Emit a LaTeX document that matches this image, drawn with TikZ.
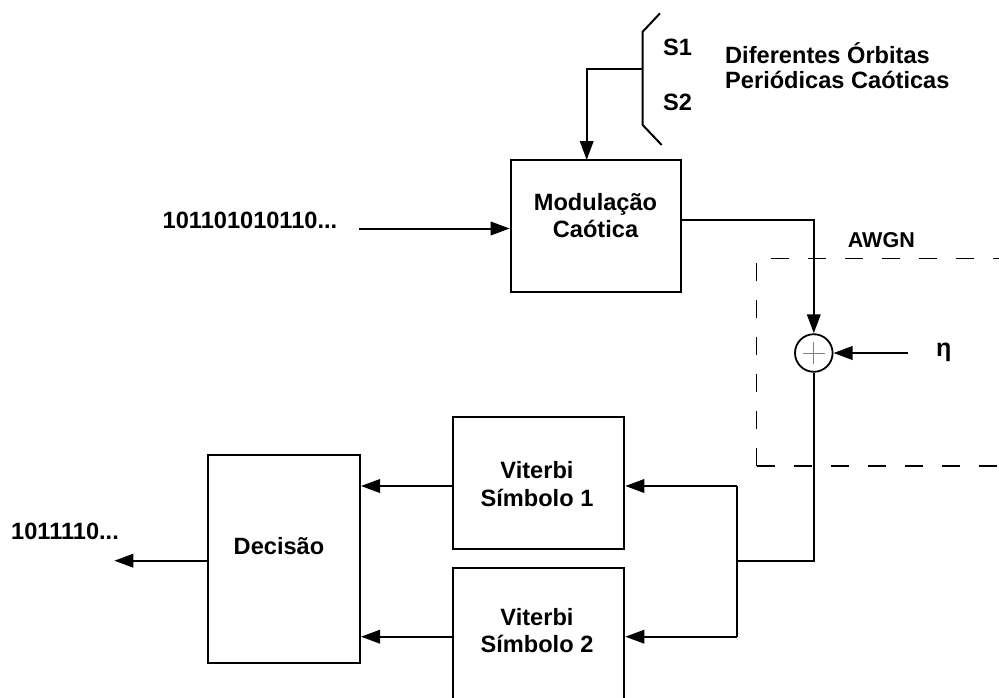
\documentclass[tikz,border=0pt]{standalone}
\usepackage{fontspec}
\setmainfont{Liberation Sans}
\usetikzlibrary{arrows.meta}

\tikzset{
  lbl/.style={inner sep=0pt, font=\fontsize{23.6}{28}\selectfont\bfseries},
  blk/.style={draw, line width=2pt, inner sep=0pt, fill=white},
  wire/.style={line width=2pt},
  arr/.style={wire, -{Triangle[length=19pt,width=13.5pt]}},
  awgnbox/.style={line width=1.3pt, dash pattern=on 18pt off 19pt},
}

\begin{document}
\begin{tikzpicture}[x=1pt, y=-1pt]
\useasboundingbox (0,0) rectangle (999,697);

% ---- transmitter ----
\node[lbl, anchor=base west] (bits) at (162.5,228.3) {101101010110...};
\coordinate (inA) at (359,228.5);
\node[blk, minimum width=170.3pt, minimum height=132.3pt] (mod) at (595.85,226.15) {};
\node[lbl, anchor=base] (mod1) at (595.5,210) {Modulação};
\node[lbl, anchor=base] (mod2) at (595.5,237) {Caótica};
\draw[arr] (inA) -- (inA -| mod.west);

% ---- orbit selector switch ----
\coordinate (swA) at (660,13.3);
\coordinate (swB) at (642.7,31.7);
\coordinate (swC) at (642.7,125);
\coordinate (swD) at (661.7,145);
\coordinate (swF) at (642.7,69.3);
\coordinate (modin) at (586.7,160);
\draw[wire, line join=miter] (swA) -- (swB) -- (swC) -- (swD);
\draw[arr] (swF) -| (modin);
\node[lbl, anchor=base west] (s1) at (663,55) {S1};
\node[lbl, anchor=base west] (s2) at (663,110) {S2};
\node[lbl, anchor=base west] (orb1) at (725,63.3) {Diferentes Órbitas};
\node[lbl, anchor=base west] (orb2) at (725,88.3) {Periódicas Caóticas};

% ---- AWGN channel ----
\begin{scope}
  \clip (0,0) rectangle (999,697);
  \draw[awgnbox] (756.5,466) -- (756.5,258.3) -- (1030,258.3);
  \draw[awgnbox] (756.5,466) -- (1030,466);
\end{scope}
\node[lbl, anchor=base west, font=\fontsize{21.5}{25}\selectfont\bfseries] (awgn) at (847.7,247.3) {AWGN};
\node[circle, draw, line width=1.8pt, minimum size=37.6pt, inner sep=0pt] (sum) at (813.8,353) {};
\draw[gray, line width=0.8pt] (sum.center) ++(-11,0) -- ++(22,0);
\draw[gray, line width=0.8pt] (sum.center) ++(0,-11) -- ++(0,22);
\coordinate (modout) at (681,220);
\draw[arr] (modout) -| (sum.north);
\coordinate (noise) at (907.7,353);
\draw[arr] (noise) -- (sum.east);
\node[lbl, anchor=base west, font=\fontsize{25}{28}\selectfont\bfseries] (eta) at (936,356.7) {η};

% ---- receiver ----
\coordinate (jn) at (737.3,560.7);
\coordinate (j1) at (737.3,486);
\coordinate (j2) at (737.3,636.7);
\draw[wire] (sum.south) |- (jn);
\draw[wire] (j1) -- (j2);

\node[blk, minimum width=171pt, minimum height=132.3pt] (vit1) at (538.8,483.15) {};
\node[lbl, anchor=base] (v1a) at (537,478.3) {Viterbi};
\node[lbl, anchor=base] (v1b) at (537,506) {Símbolo 1};
\node[blk, minimum width=171pt, minimum height=132.3pt] (vit2) at (538.8,634.45) {};
\node[lbl, anchor=base] (v2a) at (537,625) {Viterbi};
\node[lbl, anchor=base] (v2b) at (537,652.3) {Símbolo 2};
\draw[arr] (j1) -- (j1 -| vit1.east);
\draw[arr] (j2) -- (j2 -| vit2.east);

\node[blk, minimum width=151.7pt, minimum height=207.7pt] (dec) at (284.15,558.85) {};
\node[lbl, anchor=base] (dectxt) at (279,554.3) {Decisão};
\draw[arr] (j1 -| vit1.west) -- (j1 -| dec.east);
\draw[arr] (j2 -| vit2.west) -- (j2 -| dec.east);

\coordinate (outA) at (114.3,560.7);
\draw[arr] (outA -| dec.west) -- (outA);
\node[lbl, anchor=base west] (obits) at (11,539.3) {1011110...};
\end{tikzpicture}
\end{document}
